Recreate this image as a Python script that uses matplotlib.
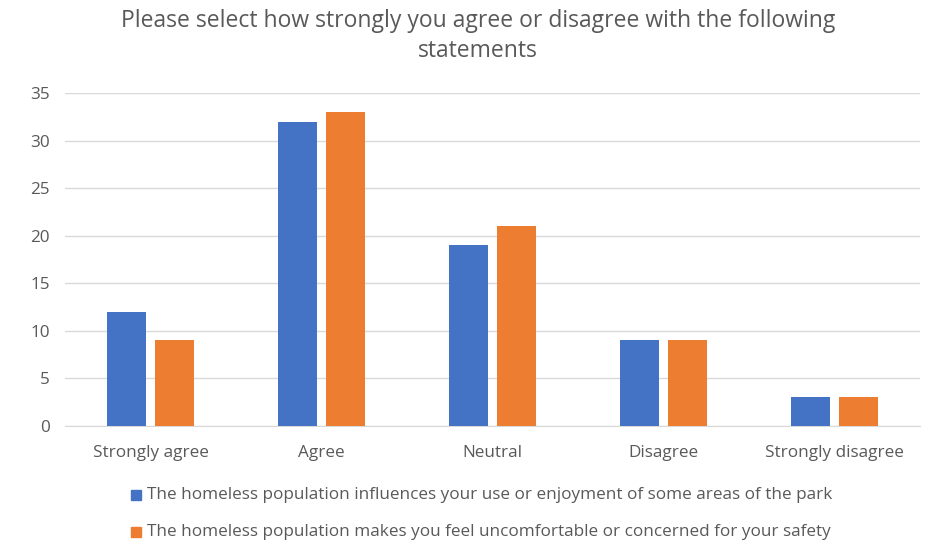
import matplotlib
matplotlib.use("Agg")
import matplotlib.pyplot as plt
import numpy as np

categories = ["Strongly agree", "Agree", "Neutral", "Disagree", "Strongly disagree"]
influences_use = [12, 32, 19, 9, 3]
feel_unsafe = [9, 33, 21, 9, 3]
series_names = [
    "The homeless population influences your use or enjoyment of some areas of the park",
    "The homeless population makes you feel uncomfortable or concerned for your safety",
]
yticks = [0, 5, 10, 15, 20, 25, 30, 35]

plt.rcParams["font.family"] = ["Open Sans", "DejaVu Sans"]
text_color = "#595959"

fig = plt.figure(figsize=(9.30, 5.47), dpi=100)
ax = fig.add_axes([65 / 930, 1 - 426 / 547, 855 / 930, 333 / 547])

x = np.arange(len(categories))
w = 0.228
off = 0.14
ax.bar(x - off, influences_use, width=w, color="#4472C4", zorder=3)
ax.bar(x + off, feel_unsafe, width=w, color="#ED7D31", zorder=3)

ax.set_xlim(-0.5, len(categories) - 0.5)
ax.set_ylim(0, 35)
ax.set_yticks(yticks)
ax.set_yticklabels([str(v) for v in yticks], color=text_color, fontsize=12.3)
ax.set_xticks(x)
ax.set_xticklabels(categories, color=text_color, fontsize=12.3)
ax.tick_params(axis="both", length=0)
ax.tick_params(axis="y", pad=11)
ax.tick_params(axis="x", pad=14)
ax.grid(axis="y", color="#D9D9D9", linewidth=1, zorder=0)
for s in ["top", "right", "left"]:
    ax.spines[s].set_visible(False)
ax.spines["bottom"].set_color("#D9D9D9")

title_x = 478 / 930
fig.text(title_x, 1 - 21 / 547, "Please select how strongly you agree or disagree with the following",
         ha="center", va="center", fontsize=16.5, color=text_color)
fig.text(title_x, 1 - 51 / 547, "statements",
         ha="center", va="center", fontsize=16.5, color=text_color)

colors = ["#4472C4", "#ED7D31"]
ys = [495, 532]
for name, c, yp in zip(series_names, colors, ys):
    fig.patches.append(plt.Rectangle((131 / 930, 1 - (yp + 5) / 547), 10 / 930, 10 / 547,
                                     transform=fig.transFigure, color=c))
    fig.text(147 / 930, 1 - yp / 547, name, ha="left", va="center",
             fontsize=12.3, color=text_color)

fig.savefig("out.png", dpi=100)
